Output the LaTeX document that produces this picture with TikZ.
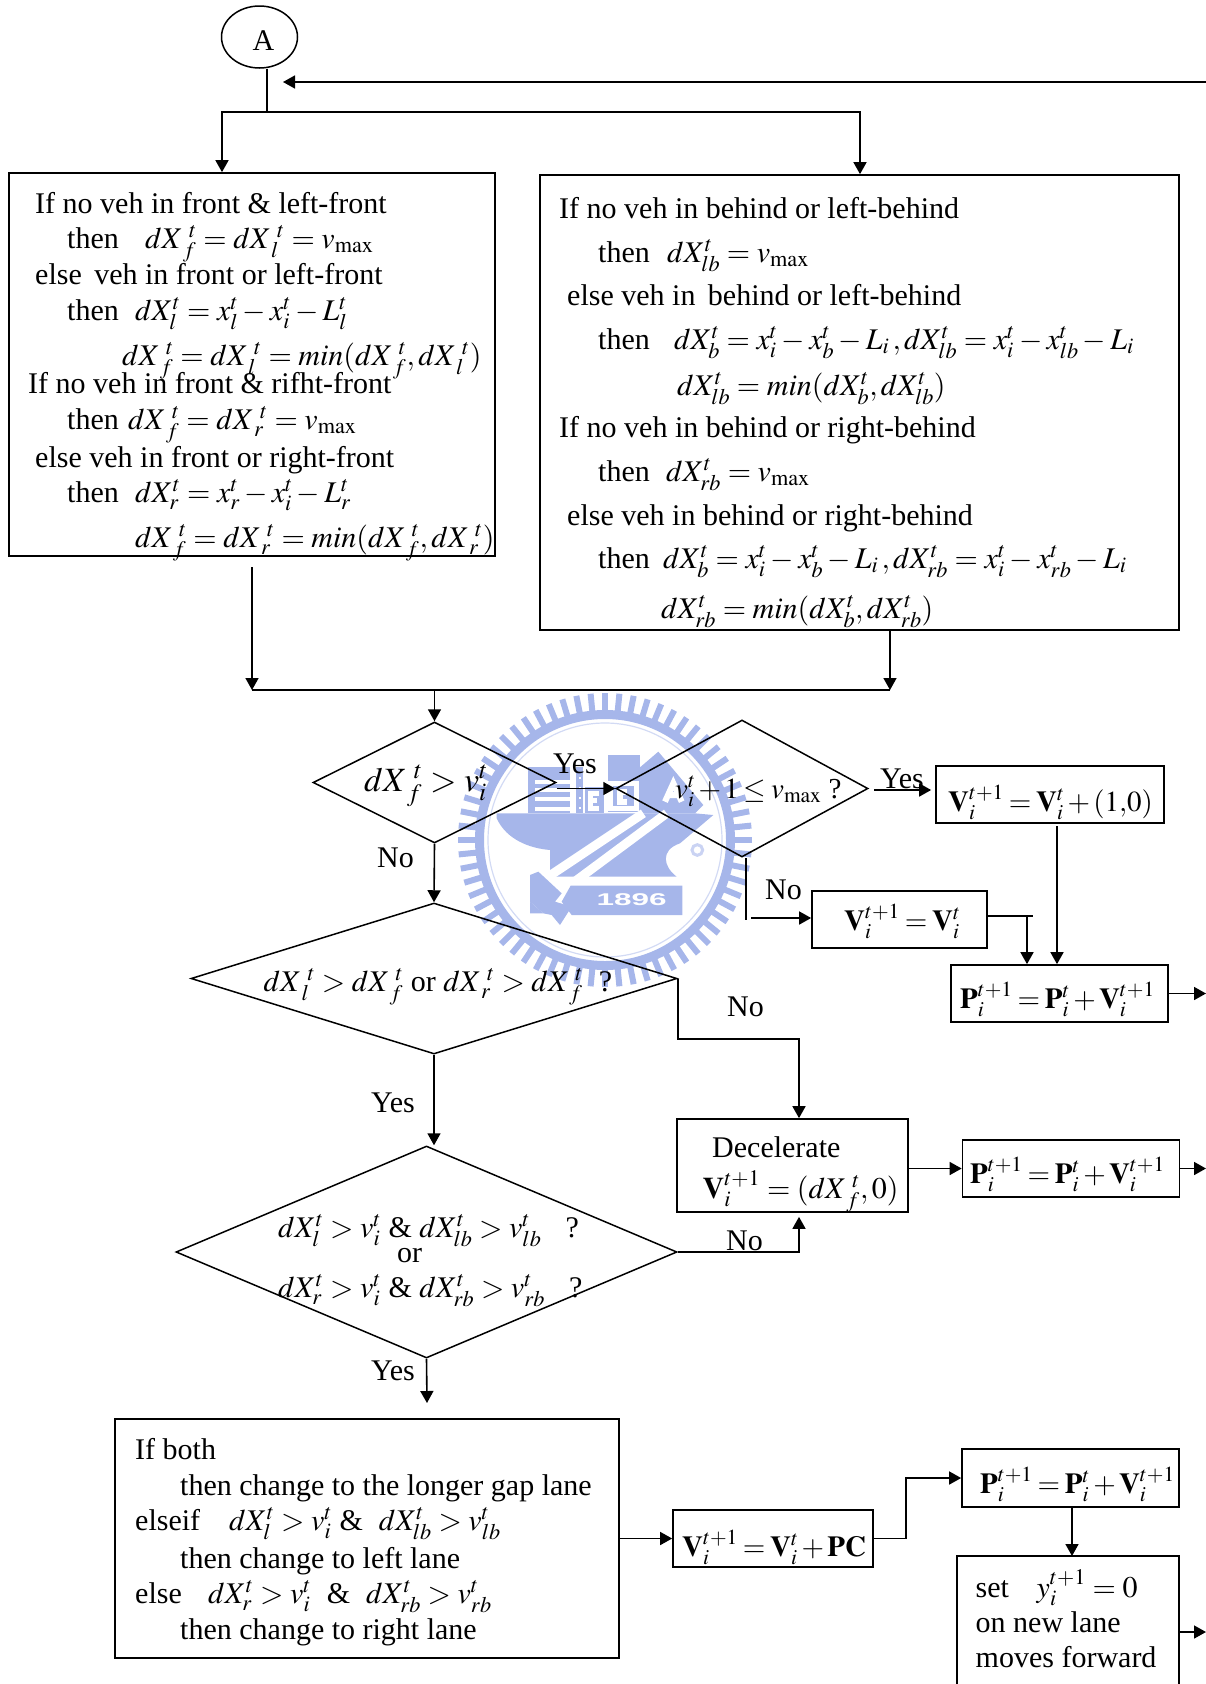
\documentclass[tikz,border=0pt]{standalone}
\usepackage{mathptmx}
\usepackage[no-math]{fontspec}
\setmainfont{Liberation Serif}
\newfontfamily\yearfont{Liberation Sans}
\usetikzlibrary{shapes.geometric,arrows.meta}
\definecolor{crestblue}{RGB}{166,182,234}
\newcommand{\dX}[1]{dX_{#1}^{t}}
\newcommand{\dW}[1]{dX_{\mkern3mu#1}^{\mkern5mu t}}
\newcommand{\vit}{v_{i}^{t}}
\newcommand{\vmx}{v_{\mathrm{max}}}
\newcommand{\Vnew}{\mathbf{V}_{i}^{t+1}}
\newcommand{\Vold}{\mathbf{V}_{i}^{t}}
\newcommand{\Pnew}{\mathbf{P}_{i}^{t+1}}
\newcommand{\Pold}{\mathbf{P}_{i}^{t}}
\newcommand{\tight}[1]{\thickmuskip=3mu\relax\medmuskip=2mu\relax$#1$}
\begin{document}
\begin{tikzpicture}[
  x=1pt, y=-1pt,
  box/.style={rectangle, draw, line width=1.7, inner sep=0},
  test/.style={diamond, draw, line width=1.5, inner sep=0},
  txt/.style={anchor=base west, inner sep=0, font=\fontsize{30}{32}\selectfont},
  eqn/.style={anchor=base west, inner sep=0, font=\fontsize{29}{32}\selectfont},
  wire/.style={line width=1.6},
  arrow/.style={-{Triangle[length=12,width=13]}, line width=1.6},
  crest/.style={crestblue, line width=6}
]
\useasboundingbox (0,0) rectangle (1206,1684);

% Watermark behind the chart
\coordinate (seal) at (605,840);
\foreach \a in {0,5.625,...,355}
  \draw[crest] (seal) ++(\a:126) -- ++(\a:21);
\draw[crest, line width=9] (seal) circle (125.5);
\draw[crest, line width=1.2, opacity=0.5] (seal) circle (117);
\begin{scope}[shift={(450,680)}, scale=1/3]
  \fill[crestblue] (140,415) .. controls (170,480) and (240,505) .. (300,510) -- (300,590) -- (680,590)
    .. controls (640,560) and (630,510) .. (690,490) -- (790,405) -- (735,400) -- (140,400) -- cycle;
  \fill[crestblue] (235,262) rectangle (360,400);
  \fill[crestblue] (378,262) rectangle (400,400);
  \fill[crestblue] (405,322) rectangle (462,400);
  \fill[crestblue] (475,225) rectangle (570,395);
  \fill[crestblue] (570,262) -- (625,215) -- (760,375) -- (735,400) -- (570,400) -- cycle;
  \foreach \s in {300,325,352,380}
    \fill[white] (255,\s) rectangle (360,\s+12);
  \foreach \s in {290,320,350,380}
    \fill[white] (386,\s) rectangle (392,\s+8);
  \draw[white, line width=5] (448,340) -- (420,340) -- (420,385) -- (448,385) (420,362) -- (442,362);
  \draw[white, line width=5] (482,310) rectangle (560,385);
  \draw[white, line width=6] (530,335) -- (510,335) -- (510,365) -- (530,365);
  \draw[white, line width=6] (645,365) -- (670,310) -- (695,365) (655,345) -- (685,345);
  \draw[white, line width=9] (280,600) -- (580,400);
  \draw[white, line width=9] (320,645) -- (650,400);
  \fill[crestblue] (240,585) -- (265,575) -- (335,640) -- (315,665) -- (365,680) -- (330,735) -- (305,705) -- (280,700) -- (240,665) -- cycle;
  \fill[crestblue] (240,665) -- (280,700) -- (240,700) -- cycle;
  \fill[crestblue] (362,617) -- (697,617) -- (697,705) -- (365,705) -- (335,665) -- cycle;
  \draw[crestblue!60, line width=3] (742,510) circle (16);
  \node[inner sep=0, white, font=\yearfont\bfseries\fontsize{17}{17}\selectfont] (year) at (545,660) {\scalebox{1.85}[1]{1896}};
\end{scope}

% Start and the loop back
\node[ellipse, draw, line width=1.5, minimum width=76, minimum height=62, inner sep=0] (start) at (259.5,37) {};
\node[txt] (startt) at (252.5,50) {A};
\coordinate (split) at (267,112);
\coordinate (lsplit) at (222,112);
\coordinate (rsplit) at (860,112);
\coordinate (backin) at (1206,82);
\coordinate (backend) at (283,82);

% Gap boxes
\node[box, minimum width=486, minimum height=383] (lbox) at (252,364.5) {};
\node[box, minimum width=639, minimum height=455] (rbox) at (859.5,402.5) {};

\node[txt] (l1) at (35,213) {If no veh in front \& left-front};
\node[txt] (l2) at (67,248) {then};
\node[txt] (l2m) at (145,248) {$\dW{f}=\dW{l}=\vmx$};
\node[txt] (l3) at (35,284) {else\, veh in front or left-front};
\node[txt] (l4) at (67,320) {then};
\node[txt] (l4m) at (135,320) {$\dX{l}=x_{l}^{t}-x_{i}^{t}-L_{l}^{t}$};
\node[txt] (l5m) at (122,365) {$\dW{f}=\dW{l}=\mathit{min}(\dW{f},\dW{l})$};
\node[txt] (l6) at (28,393) {If no veh in front \& rifht-front};
\node[txt] (l7) at (67,429) {then};
\node[txt] (l7m) at (128,429) {$\dW{f}=\dW{r}=\vmx$};
\node[txt] (l8) at (35,467) {else veh in front or right-front};
\node[txt] (l9) at (67,502) {then};
\node[txt] (l9m) at (135,502) {$\dX{r}=x_{r}^{t}-x_{i}^{t}-L_{r}^{t}$};
\node[txt] (l10m) at (135,547) {$\dW{f}=\dW{r}=\mathit{min}(\dW{f},\dW{r})$};

\node[txt] (r1) at (559,218) {If no veh in behind or left-behind};
\node[txt] (r2) at (598,262) {then};
\node[txt] (r2m) at (667,262) {$\dX{lb}=\vmx$};
\node[txt] (r3) at (567,305) {else veh in\, behind or left-behind};
\node[txt] (r4) at (598,349) {then};
\node[txt] (r4m) at (674,349) {$\dX{b}=x_{i}^{t}-x_{b}^{t}-L_{i}\,,\dX{lb}=x_{i}^{t}-x_{lb}^{t}-L_{i}$};
\node[txt] (r5m) at (677,395) {$\dX{lb}=\mathit{min}(\dX{b},\dX{lb})$};
\node[txt] (r6) at (559,437) {If no veh in behind or right-behind};
\node[txt] (r7) at (598,481) {then};
\node[txt] (r7m) at (666,481) {$\dX{rb}=\vmx$};
\node[txt] (r8) at (567,525) {else veh in behind or right-behind};
\node[txt] (r9) at (598,568) {then};
\node[txt] (r9m) at (663,568) {$\dX{b}=x_{i}^{t}-x_{b}^{t}-L_{i}\,,\dX{rb}=x_{i}^{t}-x_{rb}^{t}-L_{i}$};
\node[txt] (r10m) at (661,618) {$\dX{rb}=\mathit{min}(\dX{b},\dX{rb})$};

% Decisions
\node[test, minimum width=243, minimum height=121] (speed) at (434.5,782.5) {};
\node[test, minimum width=252, minimum height=137] (limit) at (742,788.5) {};
\node[test, minimum width=486, minimum height=151] (gap) at (434,978.5) {};
\node[test, minimum width=501, minimum height=212] (safe) at (426.5,1252) {};

\node[txt, font=\fontsize{34}{36}\selectfont] (speedt) at (364,791) {$\dW{f}>\vit$};
\node[eqn] (limitt) at (675,798) {\tight{\vit+1\leq\vmx} ?};
\node[txt] (gapt) at (263.5,991) {$\dW{l}>\dW{f}$ or $\dW{r}>\dW{f}$\; ?};
\node[txt] (safe1) at (278,1237) {$\dX{l}>\vit$ \& $\dX{lb}>v_{lb}^{t}$\;\; ?};
\node[txt] (safe2) at (397,1262) {or};
\node[txt] (safe3) at (278,1297) {$\dX{r}>\vit$ \& $\dX{rb}>v_{rb}^{t}$\;\; ?};

% Update boxes
\node[box, minimum width=228, minimum height=57] (accel) at (1050,794.5) {};
\node[box, minimum width=175, minimum height=57] (keep) at (899.5,919.5) {};
\node[box, minimum width=217, minimum height=57] (move1) at (1059.5,993.5) {};
\node[box, minimum width=231, minimum height=93] (decel) at (792.5,1165.5) {};
\node[box, minimum width=217, minimum height=57] (move2) at (1071,1168.5) {};
\node[box, minimum width=504, minimum height=239] (choose) at (367,1538.5) {};
\node[box, minimum width=200, minimum height=57] (change) at (773,1538.5) {};
\node[box, minimum width=217, minimum height=58] (move3) at (1070.5,1478) {};
\draw[box] (957,1684) |- (1179,1556) -- (1179,1684);

\node[eqn] (accelt) at (948,811) {\tight{\Vnew=\Vold+(1,\!0)}};
\node[eqn] (keept) at (844,930) {\tight{\Vnew=\Vold}};
\node[eqn] (move1t) at (960,1008) {\tight{\Pnew=\Pold+\Vnew}};
\node[txt] (decel1) at (712,1157) {Decelerate};
\node[txt] (decel2) at (702.5,1198) {$\Vnew=(\dW{f},0)$};
\node[eqn] (move2t) at (970,1183) {\tight{\Pnew=\Pold+\Vnew}};
\node[eqn] (move3t) at (980,1493) {\tight{\Pnew=\Pold+\Vnew}};
\node[eqn] (changet) at (682,1556) {\tight{\Vnew=\Vold+\mathbf{PC}}};

\node[txt] (c1) at (135,1459) {If both};
\node[txt] (c2) at (180,1495) {then change to the longer gap lane};
\node[txt] (c3) at (135,1530) {elseif};
\node[txt] (c3m) at (229,1530) {$\dX{l}>\vit$ \& \;$\dX{lb}>v_{lb}^{t}$};
\node[txt] (c4) at (180,1568) {then change to left lane};
\node[txt] (c5) at (135,1603) {else};
\node[txt] (c5m) at (208,1603) {$\dX{r}>\vit$\; \& \;$\dX{rb}>v_{rb}^{t}$};
\node[txt] (c6) at (180,1639) {then change to right lane};

\node[txt] (set1) at (975.5,1597) {set};
\node[txt] (set1m) at (1036.5,1597) {$y_{i}^{t+1}=0$};
\node[txt] (set2) at (975.5,1632) {on new lane};
\node[txt] (set3) at (975.5,1667) {moves forward};

% Branch labels
\node[txt] (yes1) at (553,773) {Yes};
\node[txt] (yes2) at (880,788) {Yes};
\node[txt] (no1) at (377,867) {No};
\node[txt] (no2) at (765,899) {No};
\node[txt] (no3) at (727,1016) {No};
\node[txt] (yes3) at (371,1112) {Yes};
\node[txt] (no4) at (726,1250) {No};
\node[txt] (yes4) at (371,1380) {Yes};

% Free ends and corners
\coordinate (ljoin) at (252,690);
\coordinate (rjoin) at (890,690);
\coordinate (merge) at (434.5,690);
\coordinate (lout) at (252,567);
\coordinate (yesout) at (874,790);
\coordinate (nocorner) at (746,920);
\coordinate (nostart) at (751,918);
\coordinate (ksplit) at (1027,916);
\coordinate (kend) at (1033,916);
\coordinate (adown) at (1057,826);
\coordinate (dectop) at (799,1039);
\coordinate (safeout) at (427,1403);
\coordinate (setin) at (1072,1556);
\coordinate (setout) at (1179,1632);
\coordinate (exit1) at (1206,993.5);
\coordinate (exit2) at (1206,1168.5);
\coordinate (exit3) at (1206,1632);

% Top of the chart
\draw[wire] (split |- start.south) -- (split);
\draw[arrow] (split) -- (lsplit) -- (lsplit |- lbox.north);
\draw[arrow] (split) -- (rsplit) -- (rsplit |- rbox.north);
\draw[arrow] (backin) -- (backend);

% Boxes into first decision
\draw[arrow] (lout) -- (ljoin);
\draw[arrow] (rjoin |- rbox.south) -- (rjoin);
\draw[wire] (ljoin) -- (rjoin);
\draw[arrow] (merge) -- (speed.north);

% Decisions
\draw[arrow] (speed.east |- limit.west) -- (limit.west);
\draw[arrow] (speed.south) -- (gap.north);
\draw[arrow, shorten >=4] (yesout) -- (yesout -| accel.west);
\draw[wire] (nocorner |- limit.south) -- (nocorner);
\draw[arrow] (nostart) -- (nostart -| keep.west);
\draw[wire] (keep.east |- kend) -- (kend);
\draw[arrow] (ksplit) -- (ksplit |- move1.north);
\draw[arrow] (adown) -- (adown |- move1.north);
\draw[arrow] (move1.east) -- (exit1);
\draw[arrow] (gap.east) |- (dectop) -- (dectop |- decel.north);
\draw[arrow] (gap.south) -- (gap.south |- safe.north);
\draw[arrow, shorten >=4] (safe.east) -| (dectop |- decel.south);
\draw[arrow] (move2.west -| decel.east) -- (move2.west);
\draw[arrow] (move2.east) -- (exit2);
\draw[arrow] (safe.south) -- (safeout);

% Lane change
\draw[arrow] (choose.east) -- (change.west);
\draw[arrow] (change.east) -- ++(32,0) |- (move3.west);
\draw[arrow] (move3.south -| setin) -- (setin);
\draw[arrow] (setout) -- (exit3);

\end{tikzpicture}
\end{document}
